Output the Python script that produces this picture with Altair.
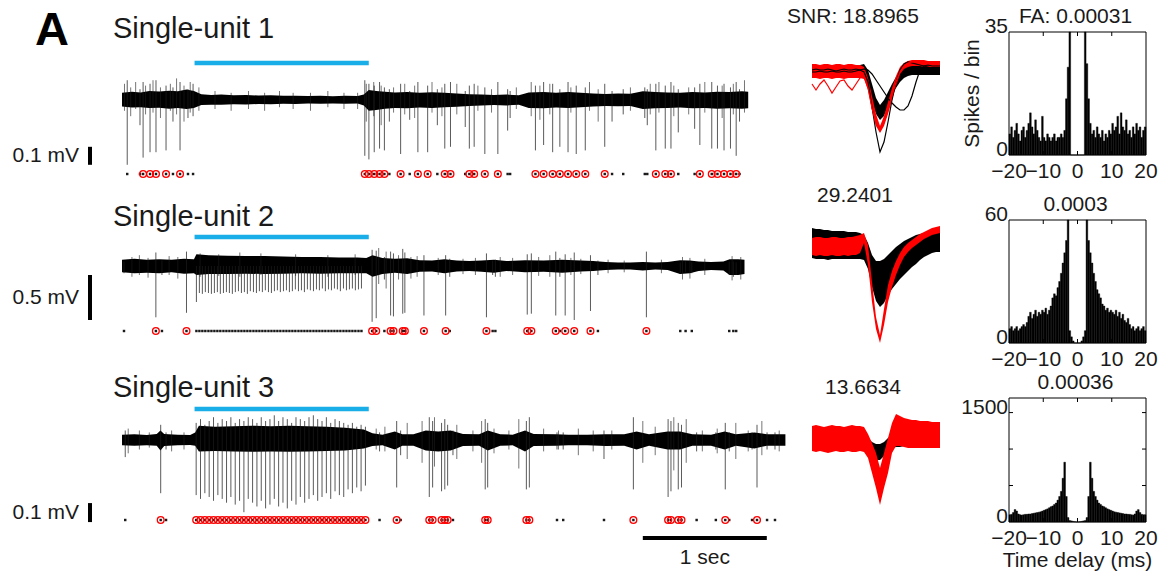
import altair as alt
import pandas as pd

FONT = "Liberation Sans"
INK = "#1a1a1a"
RED = "#ff0000"
BLUE = "#19aee8"

# ---------------- data ----------------
STIM = [0.585, 1.99]          # light-on period (s)
TIME_BAR = [4.2, 5.2]         # 1 s scale bar

# Row 1 -------------------------------------------------------------
r1_noise_t = [0.00, 0.08, 0.15, 0.22, 0.30, 0.38, 0.45, 0.52, 0.58, 0.64,
              0.72, 0.80, 0.90, 1.00, 1.10, 1.20, 1.30, 1.40, 1.50, 1.60,
              1.70, 1.80, 1.90, 1.95, 1.99, 2.05, 2.12, 2.20, 2.30, 2.40,
              2.50, 2.60, 2.70, 2.80, 2.90, 3.00, 3.10, 3.20, 3.28, 3.40,
              3.50, 3.60, 3.70, 3.80, 3.90, 4.00, 4.10, 4.20, 4.30, 4.40,
              4.50, 4.60, 4.70, 4.80, 4.90, 5.00, 5.05]
r1_noise_hi = [0.040, 0.046, 0.042, 0.050, 0.047, 0.052, 0.048, 0.058, 0.050, 0.032,
               0.028, 0.030, 0.026, 0.028, 0.025, 0.026, 0.023, 0.024, 0.022, 0.024,
               0.021, 0.023, 0.022, 0.030, 0.055, 0.050, 0.046, 0.042, 0.045, 0.040,
               0.043, 0.040, 0.036, 0.032, 0.030, 0.028, 0.030, 0.026, 0.042, 0.045,
               0.040, 0.044, 0.040, 0.036, 0.034, 0.036, 0.035, 0.048, 0.045, 0.042,
               0.040, 0.045, 0.042, 0.046, 0.044, 0.048, 0.046]
r1_noise_lo = [-0.036, -0.042, -0.040, -0.045, -0.043, -0.048, -0.044, -0.050, -0.045, -0.028,
               -0.026, -0.027, -0.024, -0.025, -0.022, -0.024, -0.021, -0.022, -0.020, -0.021,
               -0.019, -0.021, -0.020, -0.030, -0.060, -0.055, -0.048, -0.044, -0.046, -0.042,
               -0.045, -0.040, -0.038, -0.034, -0.030, -0.028, -0.030, -0.026, -0.044, -0.046,
               -0.042, -0.045, -0.040, -0.036, -0.034, -0.035, -0.034, -0.050, -0.046, -0.044,
               -0.042, -0.046, -0.045, -0.048, -0.046, -0.048, -0.046]
r1_minor_t = [0.02, 0.07, 0.11, 0.19, 0.25, 0.31, 0.39, 0.44, 0.50, 0.55,
              0.62, 0.75, 0.88, 1.02, 1.15, 1.27, 1.38, 1.52, 1.66, 1.79,
              1.90, 1.97, 2.03, 2.09, 2.19, 2.28, 2.36, 2.50, 2.58, 2.70,
              2.87, 2.98, 3.18, 3.30, 3.37, 3.45, 3.62, 3.77, 3.84, 4.10,
              4.26, 4.33, 4.45, 4.57, 4.70, 4.84, 4.93, 5.02]
r1_minor_lo = [-0.06, -0.09, -0.05, -0.08, -0.07, -0.10, -0.06, -0.08, -0.12, -0.07,
               -0.06, -0.05, -0.06, -0.05, -0.06, -0.04, -0.05, -0.06, -0.04, -0.05,
               -0.05, -0.12, -0.09, -0.14, -0.07, -0.08, -0.10, -0.07, -0.09, -0.08,
               -0.06, -0.07, -0.05, -0.09, -0.11, -0.08, -0.07, -0.06, -0.12, -0.06,
               -0.08, -0.07, -0.09, -0.08, -0.07, -0.10, -0.08, -0.07]
r1_minor_hi = [0.09, 0.07, 0.10, 0.08, 0.11, 0.07, 0.09, 0.12, 0.08, 0.10,
               0.07, 0.05, 0.04, 0.05, 0.04, 0.05, 0.04, 0.04, 0.05, 0.04,
               0.04, 0.09, 0.10, 0.08, 0.07, 0.09, 0.08, 0.10, 0.07, 0.09,
               0.08, 0.06, 0.07, 0.10, 0.08, 0.09, 0.07, 0.10, 0.06, 0.07,
               0.09, 0.10, 0.08, 0.07, 0.10, 0.08, 0.09, 0.11]
r1_ev_t = [0.042, 0.145, 0.17, 0.226, 0.274, 0.355, 0.411, 0.468, 0.532, 0.573,
           1.958, 1.991, 2.034, 2.077, 2.116, 2.156, 2.247, 2.32, 2.386, 2.465,
           2.543, 2.603, 2.649, 2.768, 2.801, 2.840, 2.926, 3.031, 3.110, 3.130,
           3.334, 3.400, 3.473, 3.531, 3.597, 3.663, 3.736, 3.893, 3.952, 4.042,
           4.216, 4.236, 4.305, 4.381, 4.427, 4.486, 4.618, 4.660, 4.756, 4.802,
           4.855, 4.907, 4.953, 4.980]
r1_ev_red = [0, 0, 1, 1, 1, 1, 0, 1, 0, 0,
             1, 1, 1, 1, 1, 0, 1, 0, 1, 1,
             0, 1, 1, 0, 1, 1, 1, 1, 0, 0,
             1, 1, 1, 1, 1, 1, 1, 1, 0, 0,
             0, 0, 1, 1, 1, 0, 0, 1, 1, 1,
             1, 1, 1, 0]
r1_ev_lo = [-0.36, -0.14, -0.32, -0.29, -0.29, -0.28, -0.12, -0.28, -0.10, -0.09,
            -0.31, -0.33, -0.29, -0.27, -0.28, -0.12, -0.30, -0.11, -0.29, -0.29,
            -0.14, -0.27, -0.26, -0.15, -0.27, -0.26, -0.30, -0.30, -0.17, -0.10,
            -0.28, -0.25, -0.29, -0.26, -0.29, -0.30, -0.28, -0.26, -0.12, -0.08,
            -0.10, -0.14, -0.28, -0.27, -0.27, -0.18, -0.16, -0.25, -0.27, -0.27,
            -0.28, -0.27, -0.31, -0.12]
r1_ev_hi = [0.11, 0.06, 0.10, 0.09, 0.11, 0.08, 0.07, 0.10, 0.06, 0.09,
            0.11, 0.09, 0.08, 0.10, 0.07, 0.06, 0.09, 0.05, 0.10, 0.08,
            0.06, 0.09, 0.10, 0.05, 0.08, 0.09, 0.07, 0.10, 0.06, 0.05,
            0.08, 0.10, 0.09, 0.06, 0.10, 0.08, 0.07, 0.09, 0.05, 0.06,
            0.07, 0.06, 0.09, 0.08, 0.10, 0.06, 0.07, 0.09, 0.10, 0.08,
            0.09, 0.07, 0.10, 0.06]

# Row 2 -------------------------------------------------------------
r2_noise_t = [0.00, 0.10, 0.20, 0.30, 0.40, 0.50, 0.58, 0.60, 0.70, 0.85,
              1.00, 1.15, 1.30, 1.45, 1.60, 1.75, 1.90, 1.97, 2.02, 2.10,
              2.20, 2.30, 2.40, 2.50, 2.60, 2.70, 2.80, 2.90, 3.00, 3.10,
              3.25, 3.40, 3.55, 3.70, 3.80, 3.90, 4.00, 4.10, 4.20, 4.30,
              4.40, 4.50, 4.58, 4.65, 4.75, 4.85, 4.90, 4.97, 5.02]
r2_noise_hi = [0.07, 0.08, 0.07, 0.075, 0.07, 0.08, 0.075, 0.13, 0.12, 0.115,
               0.11, 0.11, 0.105, 0.10, 0.10, 0.095, 0.095, 0.09, 0.12, 0.09,
               0.08, 0.085, 0.065, 0.06, 0.075, 0.06, 0.055, 0.06, 0.07, 0.055,
               0.065, 0.06, 0.07, 0.06, 0.055, 0.045, 0.04, 0.04, 0.045, 0.04,
               0.045, 0.065, 0.06, 0.05, 0.045, 0.05, 0.075, 0.075, 0.07]
r2_noise_lo = [-0.07, -0.08, -0.075, -0.08, -0.07, -0.085, -0.08, -0.10, -0.09, -0.09,
               -0.085, -0.09, -0.085, -0.08, -0.085, -0.08, -0.08, -0.08, -0.12, -0.09,
               -0.075, -0.09, -0.065, -0.06, -0.08, -0.06, -0.055, -0.065, -0.075, -0.055,
               -0.07, -0.065, -0.075, -0.06, -0.055, -0.045, -0.04, -0.04, -0.05, -0.04,
               -0.045, -0.09, -0.08, -0.055, -0.045, -0.05, -0.10, -0.10, -0.09]
r2_minor_t = [0.08, 0.14, 0.21, 0.38, 0.45, 0.63, 0.78, 0.95, 1.12, 1.40,
              1.66, 1.88, 2.07, 2.13, 2.23, 2.33, 2.38, 2.55, 2.75, 2.85,
              3.05, 3.15, 3.36, 3.45, 3.62, 3.70, 3.92, 4.05, 4.35, 4.52,
              4.58, 4.70, 4.92, 4.99]
r2_minor_lo = [-0.12, -0.10, -0.13, -0.10, -0.14, -0.12, -0.11, -0.12, -0.10, -0.11,
               -0.12, -0.10, -0.20, -0.25, -0.15, -0.14, -0.12, -0.10, -0.09, -0.10,
               -0.12, -0.10, -0.11, -0.12, -0.10, -0.09, -0.08, -0.07, -0.08, -0.15,
               -0.14, -0.10, -0.16, -0.15]
r2_minor_hi = [0.10, 0.12, 0.09, 0.11, 0.10, 0.14, 0.13, 0.15, 0.14, 0.13,
               0.12, 0.13, 0.20, 0.16, 0.12, 0.10, 0.11, 0.09, 0.08, 0.09,
               0.10, 0.09, 0.10, 0.12, 0.09, 0.08, 0.07, 0.06, 0.07, 0.10,
               0.09, 0.08, 0.11, 0.10]
r2_ev_t = [0.016, 0.273, 0.322, 0.520, 2.017, 2.050, 2.116, 2.166, 2.189, 2.264,
           2.281, 2.435, 2.610, 2.643, 2.939, 2.989, 3.011, 3.268, 3.301, 3.498,
           3.531, 3.574, 3.647, 3.778, 3.838, 4.229, 4.502, 4.545, 4.595, 4.897,
           4.930, 4.953]
r2_ev_red = [0, 1, 0, 1, 1, 1, 0, 1, 1, 1,
             1, 1, 1, 0, 1, 0, 0, 1, 1, 1,
             0, 1, 1, 1, 0, 1, 0, 0, 0, 0,
             0, 0]
r2_ev_lo = [-0.08, -0.57, -0.1, -0.52, -0.62, -0.58, -0.15, -0.55, -0.56, -0.53,
            -0.52, -0.55, -0.55, -0.12, -0.57, -0.1, -0.12, -0.54, -0.53, -0.55,
            -0.12, -0.55, -0.60, -0.50, -0.1, -0.57, -0.08, -0.07, -0.08, -0.1,
            -0.12, -0.1]
r2_ev_hi = [0.05, 0.15, 0.06, 0.16, 0.18, 0.17, 0.1, 0.16, 0.14, 0.19,
            0.15, 0.12, 0.12, 0.08, 0.14, 0.06, 0.07, 0.13, 0.14, 0.16,
            0.09, 0.13, 0.15, 0.12, 0.06, 0.16, 0.04, 0.05, 0.04, 0.05,
            0.05, 0.04]
r2_stim_t = [0.600, 0.624, 0.648, 0.672, 0.697, 0.721, 0.745, 0.769, 0.793, 0.818,
             0.842, 0.866, 0.890, 0.914, 0.939, 0.963, 0.987, 1.011, 1.035, 1.060,
             1.084, 1.108, 1.132, 1.156, 1.181, 1.205, 1.229, 1.253, 1.277, 1.302,
             1.326, 1.350, 1.374, 1.398, 1.423, 1.447, 1.471, 1.495, 1.519, 1.544,
             1.568, 1.592, 1.616, 1.640, 1.665, 1.689, 1.713, 1.737, 1.761, 1.786,
             1.810, 1.834, 1.858, 1.882, 1.907, 1.931]
r2_stim_lo = [-0.40, -0.30, -0.31, -0.29, -0.30, -0.31, -0.30, -0.29, -0.31, -0.30,
              -0.29, -0.30, -0.31, -0.29, -0.28, -0.30, -0.29, -0.31, -0.28, -0.29,
              -0.30, -0.28, -0.29, -0.27, -0.29, -0.30, -0.28, -0.27, -0.29, -0.28,
              -0.27, -0.29, -0.28, -0.26, -0.28, -0.27, -0.29, -0.26, -0.27, -0.28,
              -0.26, -0.27, -0.25, -0.28, -0.26, -0.27, -0.25, -0.26, -0.28, -0.25,
              -0.27, -0.26, -0.25, -0.27, -0.26, -0.25]

# Row 3 -------------------------------------------------------------
r3_noise_t = [0.00, 0.10, 0.20, 0.28, 0.31, 0.34, 0.45, 0.55, 0.59, 0.62,
              0.75, 0.90, 1.05, 1.20, 1.35, 1.50, 1.65, 1.80, 1.95, 2.02,
              2.10, 2.20, 2.26, 2.35, 2.45, 2.55, 2.65, 2.75, 2.88, 2.95,
              3.05, 3.15, 3.25, 3.32, 3.50, 3.60, 3.75, 3.90, 4.05, 4.15,
              4.25, 4.40, 4.50, 4.60, 4.75, 4.86, 4.95, 5.10, 5.20, 5.35]
r3_noise_hi = [0.028, 0.030, 0.026, 0.032, 0.050, 0.032, 0.028, 0.026, 0.040, 0.075,
               0.070, 0.072, 0.075, 0.073, 0.075, 0.072, 0.070, 0.065, 0.055, 0.035,
               0.028, 0.045, 0.030, 0.030, 0.050, 0.045, 0.050, 0.032, 0.030, 0.050,
               0.030, 0.028, 0.050, 0.032, 0.030, 0.028, 0.028, 0.030, 0.030, 0.045,
               0.030, 0.045, 0.045, 0.030, 0.028, 0.045, 0.030, 0.040, 0.030, 0.030]
r3_noise_lo = [-0.028, -0.030, -0.028, -0.030, -0.055, -0.032, -0.028, -0.026, -0.030, -0.060,
               -0.058, -0.060, -0.062, -0.060, -0.062, -0.060, -0.058, -0.055, -0.045, -0.032,
               -0.028, -0.050, -0.030, -0.030, -0.055, -0.060, -0.055, -0.032, -0.030, -0.055,
               -0.030, -0.028, -0.060, -0.032, -0.030, -0.028, -0.028, -0.032, -0.030, -0.050,
               -0.030, -0.050, -0.050, -0.030, -0.030, -0.050, -0.030, -0.045, -0.030, -0.030]
r3_minor_t = [0.05, 0.14, 0.22, 0.40, 0.50, 2.05, 2.12, 2.30, 2.42, 2.52,
              2.70, 2.83, 2.90, 3.00, 3.12, 3.20, 3.40, 3.52, 3.68, 3.80,
              3.95, 4.20, 4.30, 4.45, 4.55, 4.68, 4.80, 4.95, 5.05, 5.16,
              5.30]
r3_minor_lo = [-0.07, -0.05, -0.04, -0.06, -0.05, -0.05, -0.06, -0.10, -0.12, -0.14,
               -0.10, -0.06, -0.12, -0.07, -0.05, -0.15, -0.06, -0.05, -0.08, -0.06,
               -0.05, -0.12, -0.08, -0.16, -0.12, -0.06, -0.07, -0.10, -0.06, -0.08,
               -0.06]
r3_minor_hi = [0.06, 0.05, 0.04, 0.05, 0.04, 0.06, 0.07, 0.09, 0.10, 0.12,
               0.08, 0.05, 0.10, 0.06, 0.05, 0.11, 0.06, 0.05, 0.06, 0.05,
               0.05, 0.10, 0.07, 0.12, 0.11, 0.05, 0.06, 0.09, 0.05, 0.10,
               0.05]
r3_ev_t = [0.026, 0.312, 0.355, 2.077, 2.215, 2.247, 2.478, 2.505, 2.577, 2.603,
           2.626, 2.669, 2.929, 2.949, 3.261, 3.285, 3.508, 3.558, 3.887, 4.124,
           4.404, 4.427, 4.486, 4.512, 4.634, 4.789, 4.865, 4.897, 5.081, 5.121,
           5.202, 5.266]
r3_ev_red = [0, 1, 0, 0, 1, 0, 1, 1, 1, 1,
             1, 0, 1, 1, 1, 1, 0, 0, 0, 1,
             1, 1, 1, 1, 0, 0, 1, 0, 0, 1,
             0, 0]
r3_ev_lo = [-0.09, -0.28, -0.05, -0.06, -0.25, -0.08, -0.30, -0.25, -0.27, -0.26,
            -0.24, -0.08, -0.26, -0.25, -0.26, -0.25, -0.05, -0.05, -0.10, -0.26,
            -0.30, -0.27, -0.26, -0.25, -0.06, -0.05, -0.26, -0.06, -0.05, -0.25,
            -0.05, -0.05]
r3_ev_hi = [0.05, 0.08, 0.04, 0.04, 0.1, 0.05, 0.12, 0.1, 0.09, 0.11,
            0.08, 0.05, 0.11, 0.09, 0.1, 0.12, 0.04, 0.04, 0.05, 0.12,
            0.11, 0.1, 0.09, 0.08, 0.04, 0.04, 0.09, 0.04, 0.04, 0.08,
            0.04, 0.04]
r3_stim_t = [0.598, 0.633, 0.668, 0.703, 0.738, 0.773, 0.808, 0.843, 0.878, 0.913,
             0.948, 0.983, 1.018, 1.053, 1.088, 1.123, 1.158, 1.193, 1.228, 1.263,
             1.298, 1.333, 1.368, 1.403, 1.438, 1.473, 1.508, 1.543, 1.578, 1.613,
             1.648, 1.683, 1.718, 1.753, 1.788, 1.823, 1.858, 1.893, 1.928, 1.963]
r3_stim_lo = [-0.29, -0.31, -0.28, -0.30, -0.32, -0.29, -0.31, -0.33, -0.30, -0.34,
              -0.32, -0.38, -0.31, -0.33, -0.35, -0.32, -0.36, -0.34, -0.31, -0.35,
              -0.33, -0.36, -0.32, -0.34, -0.30, -0.33, -0.31, -0.29, -0.32, -0.30,
              -0.28, -0.31, -0.27, -0.29, -0.30, -0.26, -0.28, -0.25, -0.27, -0.24]
r3_stim_hi = [0.09, 0.11, 0.08, 0.10, 0.12, 0.09, 0.11, 0.10, 0.12, 0.09,
              0.11, 0.10, 0.12, 0.11, 0.09, 0.12, 0.10, 0.11, 0.13, 0.10,
              0.12, 0.11, 0.09, 0.12, 0.11, 0.10, 0.12, 0.13, 0.11, 0.10,
              0.12, 0.09, 0.11, 0.10, 0.09, 0.08, 0.09, 0.07, 0.08, 0.07]

# Waveforms (33 samples, amplitude relative to baseline) ---------------
w1_black_hi = [6, 6, 6, 6, 5, 6, 6, 6, 5, 6, 6, 6, 7, 8, 2, -12, -26, -33, -28, -20, -12, -5, 0, 4, 7, 8, 8, 8, 8, 8, 8, 7, 7]
w1_black_lo = [-5, -6, -6, -5, -6, -6, -5, -6, -6, -6, -5, -6, -6, -6, -14, -30, -42, -48, -44, -34, -24, -16, -10, -6, -4, -3, -3, -3, -3, -3, -3, -3, -3]
w1_red_hi = [8, 8, 7, 8, 8, 7, 8, 8, 7, 8, 8, 7, 7, 5, -6, -24, -42, -54, -44, -30, -16, -4, 5, 9, 11, 12, 12, 12, 12, 11, 11, 11, 11]
w1_red_lo = [-6, -6, -7, -6, -6, -7, -6, -6, -7, -6, -6, -6, -6, -7, -18, -38, -54, -61, -54, -42, -28, -14, -2, 3, 5, 6, 6, 6, 5, 5, 5, 5, 5]
w1_line_black_a = [2, 3, 2, 2, 3, 2, 1, 2, 3, 2, 2, 3, 2, 0, -10, -35, -60, -80, -70, -50, -28, -10, 2, 8, 10, 9, 8, 7, 6, 5, 4, 4, 4]
w1_line_black_b = [0, 0, 1, 0, 0, 1, 0, 0, 1, 0, 0, 1, 2, 3, 2, -2, -8, -14, -20, -26, -31, -35, -38, -38, -34, -24, -10, 2, 6, 7, 6, 6, 6]
w1_line_red = [-12, -18, -12, -8, -14, -21, -15, -9, -8, -14, -18, -12, -6, -4, -16, -36, -52, -58, -50, -38, -24, -10, 0, 6, 9, 10, 11, 11, 10, 10, 9, 9, 9]

w2_black_hi = [19, 18, 18, 17, 17, 16, 16, 16, 16, 15, 15, 15, 14, 12, 4, -8, -14, -14, -12, -8, -4, 0, 3, 6, 8, 10, 12, 13, 14, 15, 16, 17, 17]
w2_black_lo = [-11, -12, -12, -12, -13, -12, -12, -12, -12, -12, -12, -12, -12, -13, -22, -40, -54, -60, -56, -48, -42, -37, -32, -28, -24, -20, -17, -13, -10, -8, -6, -5, -5]
w2_red_hi = [9, 10, 10, 9, 9, 10, 10, 9, 9, 10, 10, 11, 12, 14, 2, -35, -70, -88, -62, -38, -24, -14, -6, 0, 4, 7, 10, 13, 15, 17, 19, 20, 21]
w2_red_lo = [-8, -9, -8, -9, -9, -8, -9, -9, -8, -9, -8, -8, -6, 4, -18, -55, -82, -96, -78, -55, -40, -28, -18, -10, -5, -1, 2, 5, 8, 10, 12, 13, 14]

w3_black_hi = [7, 6, 6, 6, 6, 6, 6, 6, 6, 6, 6, 6, 6, 5, 0, -4, -6, -6, -4, 0, 4, 6, 6, 6, 6, 6, 6, 6, 6, 6, 6, 6, 6]
w3_black_lo = [-6, -6, -6, -6, -6, -6, -6, -6, -6, -6, -6, -6, -6, -8, -12, -18, -22, -22, -18, -14, -10, -9, -9, -8, -8, -8, -8, -8, -8, -8, -8, -8, -8]
w3_red_hi = [12, 13, 12, 11, 12, 13, 12, 12, 11, 12, 13, 12, 12, 11, 4, -5, -15, -30, -15, 0, 15, 24, 22, 20, 19, 18, 18, 17, 17, 17, 16, 16, 16]
w3_red_lo = [-13, -14, -13, -14, -15, -14, -13, -14, -14, -13, -14, -14, -13, -14, -20, -35, -50, -67, -50, -35, -15, -8, -8, -9, -10, -10, -10, -10, -10, -10, -10, -10, -10]

# Cross-correlograms (0.5 ms bins, -20 .. 20 ms) ------------------------
BIN_W = 0.5
h1_counts = [6, 8, 5, 7, 9, 6, 4, 7, 8, 5, 7, 9, 12, 8, 6, 10, 7, 5, 4, 11,
             5, 4, 6, 5, 4, 5, 6, 4, 5, 5, 6, 5, 7, 16, 25, 35, 0, 0, 0, 0,
             0, 0, 0, 0, 35, 26, 16, 9, 6, 7, 5, 8, 6, 5, 7, 4, 6, 5, 7, 6,
             9, 7, 8, 11, 6, 12, 8, 7, 10, 6, 7, 5, 8, 6, 9, 7, 8, 5, 7, 8]
h2_counts = [7, 8, 6, 7, 8, 6, 7, 8, 9, 8, 10, 13, 15, 12, 14, 16, 13, 15, 14, 16,
             15, 17, 14, 16, 18, 22, 24, 23, 27, 30, 34, 39, 44, 50, 60, 6, 3, 1, 0, 0,
             0, 0, 1, 3, 6, 60, 50, 44, 39, 34, 30, 26, 24, 22, 19, 18, 16, 17, 15, 16,
             15, 14, 16, 13, 15, 12, 14, 11, 10, 12, 9, 7, 8, 6, 7, 8, 6, 7, 8, 6]
h3_counts = [100, 105, 130, 170, 150, 110, 100, 95, 100, 105,
             105, 110, 110, 115, 120, 125, 130, 135, 140, 150,
             160, 170, 180, 195, 210, 220, 240, 260, 300, 350,
             420, 600, 820, 350, 60, 20, 15, 8, 4, 0,
             0, 4, 8, 15, 20, 60, 350, 820, 600, 420,
             350, 300, 260, 240, 220, 210, 195, 180, 170, 160,
             150, 140, 135, 130, 125, 120, 115, 110, 110, 105,
             105, 100, 95, 110, 150, 170, 130, 105, 100, 100]
HIST_XTICKS = [-20, -10, 0, 10, 20]
HIST_XLABELS = ["\u221220", "\u221210", "0", "10", "20"]

# ---------------- layout constants ----------------
W_TRACE, W_WAVE, W_HIST = 805, 204, 137
ROW_H = [190, 170, 214]
T_DOMAIN = [-0.984, 5.508]
WAVE_X_DOMAIN = [-1.75, 49.25]


def txt(text, x, y, size=21, align="left", weight="normal", color=INK, angle=0):
    return alt.Chart(pd.DataFrame({"k": [0]})).mark_text(
        text=text, fontSize=size, font=FONT, align=align, baseline="middle",
        fontWeight=weight, color=color, angle=angle
    ).encode(x=alt.value(x), y=alt.value(y))


def trace_panel(noise, minor, ev, stim, stim_red, ydom, height,
                title, title_y, blue_y, dot_y, sb_top, sb_len, sb_label, extra=None):
    xs = alt.Scale(domain=T_DOMAIN, nice=False, zero=False)
    ys = alt.Scale(domain=ydom, nice=False, zero=False)
    X = lambda f: alt.X(f, type="quantitative", scale=xs, axis=None)
    Y = lambda f: alt.Y(f, type="quantitative", scale=ys, axis=None)

    nz = pd.DataFrame({"t": noise[0], "hi": noise[1], "lo": noise[2]})
    mn = pd.DataFrame({"t": minor[0], "lo": minor[1], "hi": minor[2]})
    evd = pd.DataFrame({"t": ev[0], "lo": ev[1], "hi": ev[2], "red": ev[3]})
    st = pd.DataFrame({"t": stim[0], "lo": stim[1],
                       "hi": stim[2] if stim[2] is not None else [0.0] * len(stim[0]),
                       "red": [stim_red] * len(stim[0])})
    spk = pd.concat([evd, st], ignore_index=True)

    band = alt.Chart(nz).mark_area(color="black").encode(x=X("t"), y=Y("lo"), y2="hi")
    small = alt.Chart(mn).mark_rule(color=INK, strokeWidth=1, opacity=0.6).encode(
        x=X("t"), y=Y("lo"), y2="hi")
    rules = alt.Chart(spk).mark_rule(color=INK, strokeWidth=1, opacity=0.72).encode(
        x=X("t"), y=Y("lo"), y2="hi")
    dots = alt.Chart(spk).mark_square(color=INK, size=6, opacity=1).encode(
        x=X("t"), y=alt.value(dot_y))
    rings = alt.Chart(spk[spk["red"] == 1]).mark_point(
        shape="circle", filled=False, color=RED, strokeWidth=1.3, size=46, opacity=1
    ).encode(x=X("t"), y=alt.value(dot_y))
    blue = alt.Chart(pd.DataFrame({"a": [STIM[0]], "b": [STIM[1]]})).mark_rule(
        color=BLUE, strokeWidth=4.5).encode(x=X("a"), x2="b", y=alt.value(blue_y))
    sb = pd.DataFrame({"a": [sb_top], "b": [sb_top - sb_len], "m": [sb_top - sb_len / 2]})
    sbar = alt.Chart(sb).mark_rule(color="black", strokeWidth=4).encode(
        x=alt.value(90), y=Y("a"), y2="b")
    slab = alt.Chart(sb).mark_text(text=sb_label, fontSize=21, font=FONT, align="right",
                                   baseline="middle", color=INK).encode(
        x=alt.value(79), y=Y("m"))
    layers = [band, small, rules, dots, rings, blue, sbar, slab,
              txt(title, 113, title_y, size=29)]
    if extra:
        layers += extra(X, Y)
    return alt.layer(*layers).properties(width=W_TRACE, height=height)


def time_bar(X, Y):
    d = pd.DataFrame({"a": [TIME_BAR[0]], "b": [TIME_BAR[1]],
                      "m": [(TIME_BAR[0] + TIME_BAR[1]) / 2]})
    bar = alt.Chart(d).mark_rule(color="black", strokeWidth=4).encode(
        x=X("a"), x2="b", y=alt.value(178))
    lab = alt.Chart(d).mark_text(text="1 sec", fontSize=21, font=FONT, align="center",
                                 baseline="middle", color=INK).encode(
        x=X("m"), y=alt.value(198))
    return [bar, lab]


def letter_a(X, Y):
    return [txt("A", 52, 31, size=47, align="center", weight="bold", color="black")]


def wave_panel(bh, bl, rh, rl, lines, ydom, height, title, tx, ty):
    xs = alt.Scale(domain=WAVE_X_DOMAIN, nice=False, zero=False)
    ys = alt.Scale(domain=ydom, nice=False, zero=False)
    XW = alt.X("i", type="quantitative", scale=xs, axis=None)
    YW = lambda f: alt.Y(f, type="quantitative", scale=ys, axis=None)
    df = pd.DataFrame({"i": list(range(len(bh))), "bh": bh, "bl": bl, "rh": rh, "rl": rl})
    layers = [
        alt.Chart(df).mark_area(color="black", opacity=1).encode(x=XW, y=YW("bl"), y2="bh"),
        alt.Chart(df).mark_area(color=RED, opacity=1).encode(x=XW, y=YW("rl"), y2="rh"),
    ]
    for vals, col in lines:
        ld = pd.DataFrame({"i": list(range(len(vals))), "v": vals})
        layers.append(alt.Chart(ld).mark_line(color=col, strokeWidth=1.2).encode(x=XW, y=YW("v")))
    layers.append(txt(title, tx, ty, align="center"))
    return alt.layer(*layers).properties(width=W_WAVE, height=height)


def hist_panel(counts, top, ylab_vals, yticks, title, y_title, x_title, height, ft, fb):
    # the frame occupies pixel rows ft..fb of the cell; extend the domain so that it does
    k = top / (fb - ft)
    ydom = [-(height - fb) * k, top + ft * k]
    lo = [-20 + BIN_W * j for j in range(len(counts))]
    df = pd.DataFrame({"a": lo, "b": [v + BIN_W for v in lo], "c": counts, "z": [0] * len(counts)})
    xs = alt.Scale(domain=[-20, 20], nice=False, zero=False)
    ys = alt.Scale(domain=ydom, nice=False, zero=False)
    X = lambda f: alt.X(f, type="quantitative", scale=xs, axis=None)
    Y = lambda f: alt.Y(f, type="quantitative", scale=ys, axis=None)

    bars = alt.Chart(df).mark_rect(color="black", stroke="black", strokeWidth=0.4).encode(
        x=X("a"), x2="b", y=Y("c"), y2="z")
    frame = alt.Chart(pd.DataFrame({"a": [-20], "b": [20], "c": [0], "d": [top]})).mark_rect(
        fillOpacity=0, stroke="black", strokeWidth=1).encode(x=X("a"), x2="b", y=Y("c"), y2="d")
    xt = pd.DataFrame({"a": HIST_XTICKS[1:-1]})
    tb = alt.Chart(xt).mark_rule(color="black", strokeWidth=1).encode(
        x=X("a"), y=alt.value(fb), y2=alt.value(fb - 4))
    tt = alt.Chart(xt).mark_rule(color="black", strokeWidth=1).encode(
        x=X("a"), y=alt.value(ft), y2=alt.value(ft + 4))
    xl = alt.Chart(pd.DataFrame({"a": HIST_XTICKS, "s": HIST_XLABELS})).mark_text(
        fontSize=21, font=FONT, color=INK, align="center", baseline="middle").encode(
        x=X("a"), y=alt.value(fb + 17), text="s:N")
    yl = alt.Chart(pd.DataFrame({"c": ylab_vals, "s": [str(v) for v in ylab_vals]})).mark_text(
        fontSize=21, font=FONT, color=INK, align="right", baseline="middle", dy=-5).encode(
        x=alt.value(-1), y=Y("c"), text="s:N")
    layers = [bars, frame, tb, tt, xl, yl, txt(title, W_HIST / 2 - 2, ft - 15, align="center")]
    if yticks:
        yt = pd.DataFrame({"c": yticks})
        layers.append(alt.Chart(yt).mark_rule(color="black", strokeWidth=1).encode(
            y=Y("c"), x=alt.value(0), x2=alt.value(4)))
        layers.append(alt.Chart(yt).mark_rule(color="black", strokeWidth=1).encode(
            y=Y("c"), x=alt.value(W_HIST - 4), x2=alt.value(W_HIST)))
    if y_title:
        layers.append(txt(y_title, -36, (ft + fb) / 2, align="center", angle=270))
    if x_title:
        layers.append(txt(x_title, W_HIST / 2, fb + 39, align="center"))
    return alt.layer(*layers).properties(width=W_HIST, height=height)


# ---------------- build ----------------
t1 = trace_panel((r1_noise_t, r1_noise_hi, r1_noise_lo), (r1_minor_t, r1_minor_lo, r1_minor_hi),
                 (r1_ev_t, r1_ev_lo, r1_ev_hi, r1_ev_red), ([], [], []), 0,
                 [-0.5, 0.5556], ROW_H[0], "Single-unit 1", 29, 63, 174,
                 -0.26, 0.1, "0.1 mV", extra=letter_a)
t2 = trace_panel((r2_noise_t, r2_noise_hi, r2_noise_lo), (r2_minor_t, r2_minor_lo, r2_minor_hi),
                 (r2_ev_t, r2_ev_lo, r2_ev_hi, r2_ev_red), (r2_stim_t, r2_stim_lo, None), 0,
                 [-1.0444, 0.8444], ROW_H[1], "Single-unit 2", 27, 47, 141,
                 -0.1, 0.5, "0.5 mV")
t3 = trace_panel((r3_noise_t, r3_noise_hi, r3_noise_lo), (r3_minor_t, r3_minor_lo, r3_minor_hi),
                 (r3_ev_t, r3_ev_lo, r3_ev_hi, r3_ev_red), (r3_stim_t, r3_stim_lo, r3_stim_hi), 1,
                 [-0.7053, 0.4211], ROW_H[2], "Single-unit 3", 28, 49, 160,
                 -0.332, 0.1, "0.1 mV", extra=time_bar)

wv1 = wave_panel(w1_black_hi, w1_black_lo, w1_red_hi, w1_red_lo,
                 [(w1_line_black_a, "black"), (w1_line_black_b, "black"), (w1_line_red, RED)],
                 [-118, 72], ROW_H[0], "SNR: 18.8965", 48, 17)
wv2 = wave_panel(w2_black_hi, w2_black_lo, w2_red_hi, w2_red_lo, [], [-113, 57], ROW_H[1], "29.2401", 50, 6)
wv3 = wave_panel(w3_black_hi, w3_black_lo, w3_red_hi, w3_red_lo, [], [-136, 78], ROW_H[2], "13.6634", 58, 28)

hs1 = hist_panel(h1_counts, 35, [0, 35], None, "FA: 0.00031", "Spikes / bin", None, ROW_H[0], 32, 155)
hs2 = hist_panel(h2_counts, 60, [0, 60], None, "0.0003", None, None, ROW_H[1], 30, 153)
hs3 = hist_panel(h3_counts, 1700, [0, 1500], [500, 1000, 1500], "0.00036", None, "Time delay (ms)",
                 ROW_H[2], 38, 162)

chart = alt.concat(t1, wv1, hs1, t2, wv2, hs2, t3, wv3, hs3,
                   columns=3, spacing=0, bounds="flush").properties(
    padding=0, background="white"
).configure(font=FONT, view=alt.ViewConfig(stroke=None))

chart.save("out.html", embed_options={"renderer": "svg", "actions": False})
